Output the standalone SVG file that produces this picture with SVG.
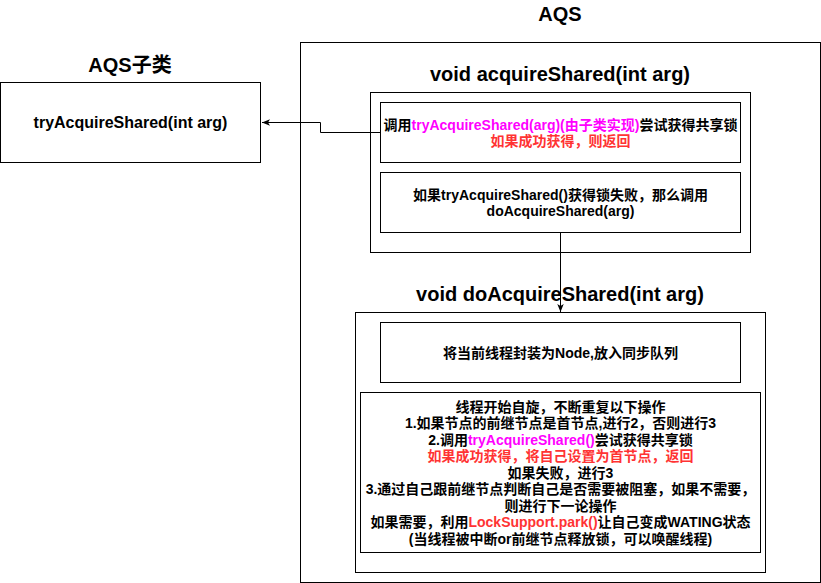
<svg xmlns="http://www.w3.org/2000/svg" width="821" height="583" viewBox="0 0 821 583">
<defs>
<marker id="arr" viewBox="0 0 10 10" refX="10" refY="5" markerWidth="8" markerHeight="8" markerUnits="userSpaceOnUse" orient="auto">
<path d="M0,1 L10,5 L0,9 L2.5,5 z" fill="#000"/>
</marker>
<style>
.box{fill:#fff;stroke:#000;stroke-width:1}
.t{font-family:"Liberation Sans","Noto Sans CJK SC",sans-serif;font-weight:bold;text-anchor:middle;dominant-baseline:central;fill:#000}
.s14{font-size:14px}
.s16{font-size:16px}
.s20{font-size:20px}
.mag{fill:#FF00FF}
.red{fill:#FF3333}
.edge{fill:none;stroke:#000;stroke-width:1}
</style>
</defs>
<rect width="821" height="583" fill="#fff"/>

<g id="aqs-sub">
<text class="t s20" x="130" y="65">AQS子类</text>
<rect class="box" x="0.5" y="82.5" width="260" height="80"/>
<text class="t s16" x="130.5" y="122.5">tryAcquireShared(int arg)</text>
</g>

<g id="aqs">
<text class="t s20" x="560" y="14">AQS</text>
<rect class="box" x="300.5" y="42.5" width="520" height="540"/>
</g>

<g id="acquireShared">
<text class="t s20" x="560" y="74">void acquireShared(int arg)</text>
<rect class="box" x="370.5" y="92.5" width="380" height="160"/>
</g>

<g id="call-try">
<rect class="box" x="380.5" y="102.5" width="360" height="60"/>
<text class="t s14" x="560.5" y="124.5">调用<tspan class="mag">tryAcquireShared(arg)(由子类实现)</tspan>尝试获得共享锁</text>
<text class="t s14 red" x="560.5" y="141">如果成功获得，则返回</text>
</g>

<g id="call-do">
<rect class="box" x="380.5" y="172.5" width="360" height="60"/>
<text class="t s14" x="560.5" y="194.5">如果tryAcquireShared()获得锁失败，那么调用</text>
<text class="t s14" x="560.5" y="211">doAcquireShared(arg)</text>
</g>

<g id="doAcquireShared">
<text class="t s20" x="560" y="294">void doAcquireShared(int arg)</text>
<rect class="box" x="355.5" y="312.5" width="410" height="260"/>
</g>

<g id="node-enqueue">
<rect class="box" x="380.5" y="322.5" width="360" height="60"/>
<text class="t s14" x="560.5" y="352.5">将当前线程封装为Node,放入同步队列</text>
</g>

<g id="spin">
<rect class="box" x="360.5" y="392.5" width="400" height="160"/>
<text class="t s14" x="560.5" y="406.5">线程开始自旋，不断重复以下操作</text>
<text class="t s14" x="560.5" y="423">1.如果节点的前继节点是首节点,进行2，否则进行3</text>
<text class="t s14" x="560.5" y="439.5">2.调用<tspan class="mag">tryAcquireShared()</tspan>尝试获得共享锁</text>
<text class="t s14 red" x="560.5" y="456">如果成功获得，将自己设置为首节点，返回</text>
<text class="t s14" x="560.5" y="472.5">如果失败，进行3</text>
<text class="t s14" x="560.5" y="489">3.通过自己跟前继节点判断自己是否需要被阻塞，如果不需要，</text>
<text class="t s14" x="560.5" y="505.5">则进行下一论操作</text>
<text class="t s14" x="560.5" y="522">如果需要，利用<tspan class="red">LockSupport.park()</tspan>让自己变成WATING状态</text>
<text class="t s14" x="560.5" y="538.5">(当线程被中断or前继节点释放锁，可以唤醒线程)</text>
</g>

<g id="connectors">
<path class="edge" d="M380.5,132.5 H320.5 V122.5 H262" marker-end="url(#arr)"/>
<path class="edge" d="M560.5,232.5 V312" marker-end="url(#arr)"/>
</g>
</svg>
